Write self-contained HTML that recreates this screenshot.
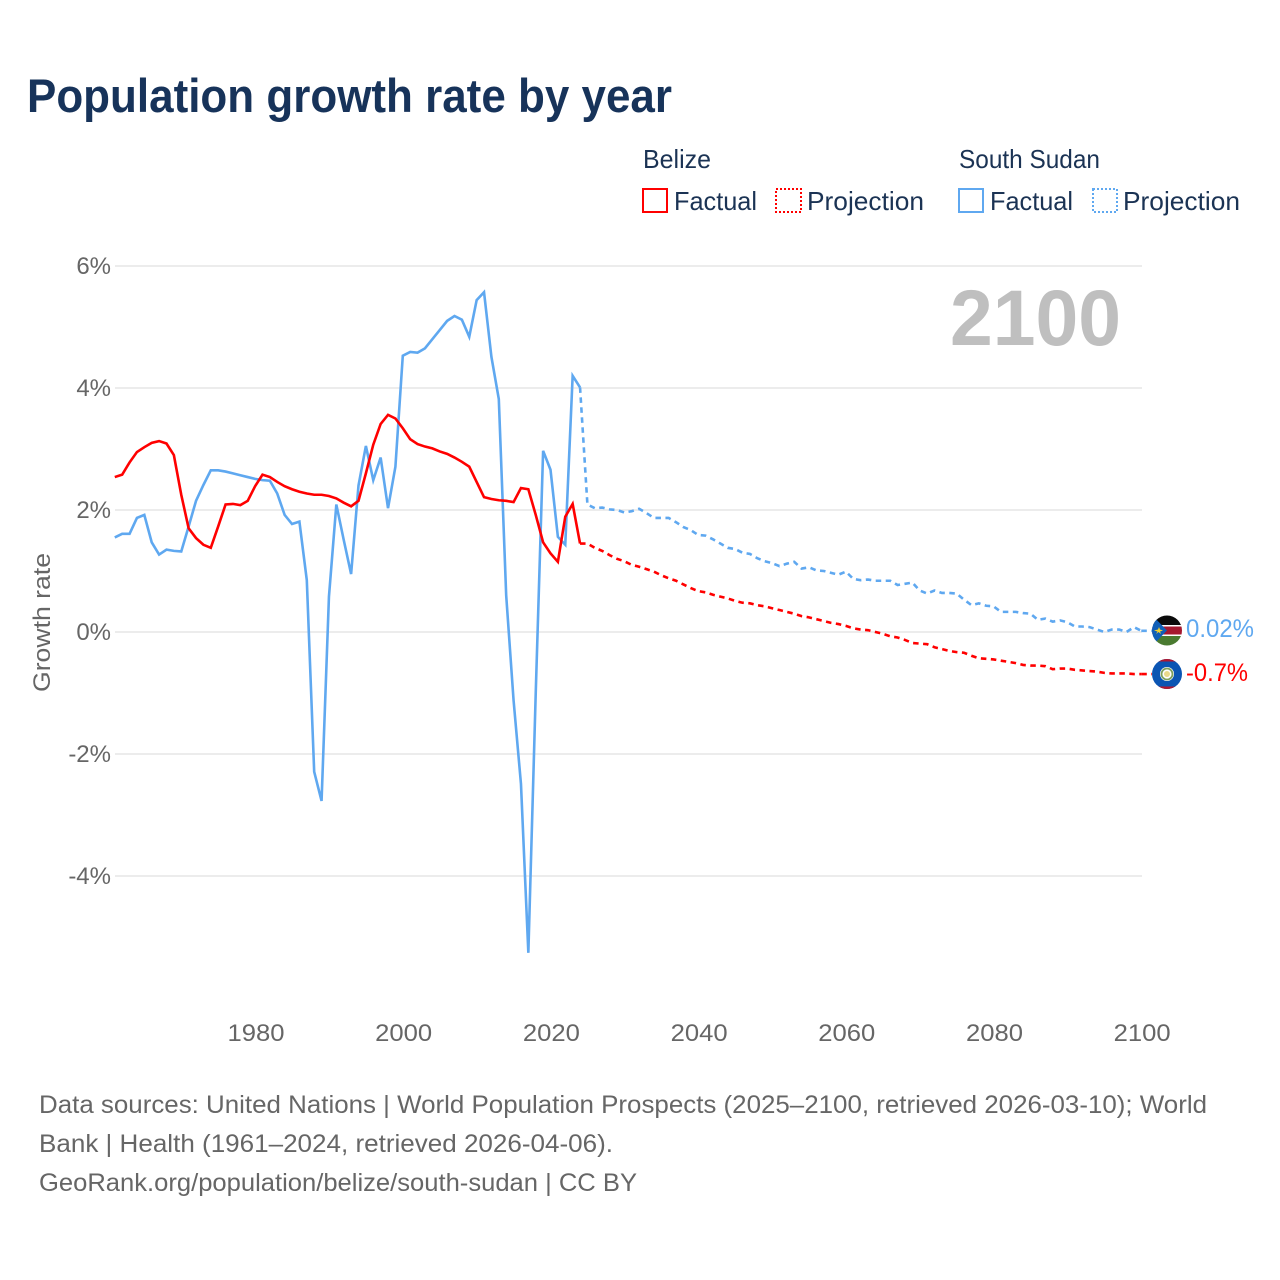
<!DOCTYPE html>
<html lang="en">
<head>
<meta charset="utf-8">
<title>Population growth rate by year</title>
<style>
html,body{margin:0;padding:0;background:#fff;}
svg{display:block;font-family:"Liberation Sans",sans-serif;}
</style>
</head>
<body>
<svg id="chart" xmlns="http://www.w3.org/2000/svg" width="1280" height="1280" viewBox="0 0 1280 1280">
<rect x="0" y="0" width="1280" height="1280" fill="#ffffff"/>
<text x="27" y="112" font-size="47" font-weight="700" fill="#17335a" textLength="645" lengthAdjust="spacingAndGlyphs">Population growth rate by year</text>

<g font-size="26" fill="#1b3354">
<text x="643" y="168" textLength="68" lengthAdjust="spacingAndGlyphs">Belize</text>
<text x="959" y="168" textLength="141" lengthAdjust="spacingAndGlyphs">South Sudan</text>
<rect x="643" y="189" width="24" height="23" fill="none" stroke="#ff0000" stroke-width="2"/>
<text x="674" y="210" textLength="83" lengthAdjust="spacingAndGlyphs">Factual</text>
<rect x="776" y="189" width="25" height="23" fill="none" stroke="#ff0000" stroke-width="2" stroke-dasharray="2 2"/>
<text x="807" y="210" textLength="117" lengthAdjust="spacingAndGlyphs">Projection</text>
<rect x="959" y="189" width="24" height="23" fill="none" stroke="#5fa8f0" stroke-width="2"/>
<text x="990" y="210" textLength="83" lengthAdjust="spacingAndGlyphs">Factual</text>
<rect x="1093" y="189" width="24" height="23" fill="none" stroke="#5fa8f0" stroke-width="2" stroke-dasharray="2 2"/>
<text x="1123" y="210" textLength="117" lengthAdjust="spacingAndGlyphs">Projection</text>
</g>

<g id="grid"></g>
<g id="yticks"></g>
<g id="xticks"></g>
<text transform="translate(50,692) rotate(-90)" font-size="24" fill="#666666" textLength="139" lengthAdjust="spacingAndGlyphs">Growth rate</text>
<text x="950" y="345" font-size="79" font-weight="700" fill="#bfbfbf" textLength="171" lengthAdjust="spacingAndGlyphs">2100</text>
<g id="series"></g>

<defs>
<clipPath id="clip-ss"><circle cx="1167" cy="630.5" r="15"/></clipPath>
<clipPath id="clip-bz"><circle cx="1167" cy="674" r="15"/></clipPath>
</defs>
<g clip-path="url(#clip-ss)">
<rect x="1152" y="615" width="30" height="10" fill="#0b0b0b"/>
<rect x="1152" y="625" width="30" height="1.5" fill="#ffffff"/>
<rect x="1152" y="626.5" width="30" height="8" fill="#a5182f"/>
<rect x="1152" y="634.5" width="30" height="1.5" fill="#ffffff"/>
<rect x="1152" y="636" width="30" height="10" fill="#4a7a30"/>
<polygon points="1152,615 1167,630.5 1152,646" fill="#0f5fb8"/>
<polygon points="1154,630.5 1158,629.5 1159,627 1160,629.5 1163,630.5 1160,631.5 1161,634 1158.500,632 1156,634 1157.500,631.500" fill="#f4d130"/>
</g>
<g clip-path="url(#clip-bz)">
<rect x="1152" y="659" width="30" height="30" fill="#0b55b3"/>
<rect x="1152" y="659" width="30" height="2.500" fill="#b01830"/>
<rect x="1152" y="686.500" width="30" height="2.500" fill="#b01830"/>
<circle cx="1167" cy="674" r="7" fill="#ffffff"/>
<circle cx="1167" cy="674" r="5.500" fill="none" stroke="#7da05c" stroke-width="1.800"/>
<circle cx="1167" cy="674" r="3" fill="#e9d98a"/>
</g>
<text x="1186" y="637" font-size="25" fill="#5fa8f0" textLength="68" lengthAdjust="spacingAndGlyphs">0.02%</text>
<text x="1186" y="681" font-size="25" fill="#ff0000" textLength="62" lengthAdjust="spacingAndGlyphs">-0.7%</text>

<g font-size="25" fill="#666666">
<text x="39" y="1113" textLength="1168" lengthAdjust="spacingAndGlyphs">Data sources: United Nations | World Population Prospects (2025–2100, retrieved 2026-03-10); World</text>
<text x="39" y="1152" textLength="574" lengthAdjust="spacingAndGlyphs">Bank | Health (1961–2024, retrieved 2026-04-06).</text>
<text x="39" y="1191" textLength="598" lengthAdjust="spacingAndGlyphs">GeoRank.org/population/belize/south-sudan | CC BY</text>
</g>
</svg>
<script>
var xTicks = [1980, 2000, 2020, 2040, 2060, 2080, 2100];
var yTicks = [6, 4, 2, 0, -2, -4];
var factualStartYear = 1961;
var projectionStartYear = 2024;
var belizeFactual = [
2.54,2.58,2.78,2.95,3.03,3.10,3.13,3.09,2.90,2.25,
1.70,1.54,1.43,1.38,1.73,2.09,2.10,2.08,2.15,2.39,
2.58,2.54,2.46,2.39,2.34,2.30,2.27,2.25,2.25,2.23,
2.19,2.12,2.06,2.15,2.60,3.07,3.41,3.56,3.50,3.34,
3.16,3.08,3.04,3.01,2.96,2.92,2.86,2.79,2.71,2.46,
2.21,2.18,2.16,2.15,2.13,2.36,2.34,1.92,1.47,1.29,
1.15,1.89,2.10,1.45];
var belizeProjection = [
1.45,1.45,1.38,1.33,1.26,1.20,1.16,1.10,1.07,1.03,0.99,
0.93,0.88,0.84,0.78,0.72,0.67,0.65,0.61,0.58,0.55,
0.51,0.48,0.47,0.44,0.42,0.39,0.36,0.33,0.30,0.26,
0.24,0.21,0.18,0.15,0.13,0.10,0.06,0.04,0.03,0.00,
-0.03,-0.07,-0.09,-0.13,-0.18,-0.19,-0.20,-0.25,-0.28,-0.31,
-0.33,-0.34,-0.39,-0.43,-0.44,-0.45,-0.47,-0.49,-0.51,-0.54,
-0.55,-0.55,-0.56,-0.61,-0.60,-0.60,-0.62,-0.63,-0.64,-0.65,
-0.67,-0.68,-0.68,-0.68,-0.69,-0.69];
var sudanFactual = [
1.55,1.61,1.61,1.87,1.92,1.47,1.27,1.35,1.33,1.32,
1.73,2.15,2.41,2.65,2.65,2.63,2.60,2.57,2.54,2.51,
2.49,2.48,2.27,1.92,1.77,1.81,0.85,-2.29,-2.77,0.58,
2.09,1.51,0.95,2.40,3.05,2.49,2.86,2.03,2.71,4.53,
4.59,4.58,4.65,4.80,4.95,5.10,5.18,5.12,4.84,5.44,
5.57,4.51,3.82,0.60,-1.12,-2.49,-5.26,-1.00,2.97,2.66,
1.56,1.43,4.20,4.01];
var sudanProjection = [
4.01,2.09,2.03,2.04,2.01,2.00,1.96,1.98,2.02,1.95,1.87,
1.87,1.87,1.80,1.72,1.67,1.59,1.58,1.52,1.45,1.38,
1.36,1.30,1.28,1.21,1.16,1.13,1.08,1.12,1.15,1.04,
1.06,1.01,1.00,0.97,0.94,0.99,0.87,0.85,0.86,0.84,
0.84,0.84,0.77,0.79,0.81,0.68,0.63,0.68,0.64,0.64,
0.63,0.53,0.44,0.47,0.43,0.42,0.33,0.33,0.33,0.31,
0.30,0.20,0.22,0.17,0.19,0.16,0.09,0.09,0.08,0.04,
0.00,0.04,0.04,0.00,0.08,0.02];

var SVGNS = 'http://www.w3.org/2000/svg';
function xTickScale(year) { return 256 + (year - 1980) * 7.385; }
function xScale(year) { return 255.1 + (year - 1980) * 7.385; }
function yScale(v) { return 632 - v * 61; }
function pathFor(values, startYear) {
  var d = '';
  for (var i = 0; i < values.length; i++) {
    d += (i ? 'L' : 'M') + xScale(startYear + i).toFixed(2) + ' ' + yScale(values[i]).toFixed(2);
  }
  return d;
}
var grid = document.getElementById('grid');
var yt = document.getElementById('yticks');
var xt = document.getElementById('xticks');
var seriesG = document.getElementById('series');

yTicks.forEach(function (v) {
  var line = document.createElementNS(SVGNS, 'line');
  
  
  line.setAttribute('x1', 115);
  line.setAttribute('x2', 1142);
  line.setAttribute('y1', yScale(v));
  line.setAttribute('y2', yScale(v));
  line.setAttribute('stroke', '#ececec');
  line.setAttribute('stroke-width', '2');
  grid.appendChild(line);
  var t = document.createElementNS(SVGNS, 'text');
  
  
  t.setAttribute('x', 111);
  t.setAttribute('y', yScale(v) + 8);
  t.setAttribute('text-anchor', 'end');
  t.setAttribute('font-size', '24');
  t.setAttribute('fill', '#666666');
  t.textContent = v + '%';
  yt.appendChild(t);
});
xTicks.forEach(function (year) {
  var t = document.createElementNS(SVGNS, 'text');
  
  
  t.setAttribute('x', xTickScale(year) - 28.5);
  t.setAttribute('y', 1041);
  t.setAttribute('font-size', '24');
  t.setAttribute('fill', '#666666');
  t.setAttribute('textLength', '57');
  t.setAttribute('lengthAdjust', 'spacingAndGlyphs');
  t.textContent = year;
  xt.appendChild(t);
});
function addLine(name, values, startYear, color, dashed) {
  var p = document.createElementNS(SVGNS, 'path');
  
  
  p.setAttribute('d', pathFor(values, startYear));
  p.setAttribute('fill', 'none');
  p.setAttribute('stroke', color);
  p.setAttribute('stroke-width', '2.6');
  p.setAttribute('stroke-linejoin', 'miter');
  if (dashed) { p.setAttribute('stroke-dasharray', '5.5 4.5'); }
  seriesG.appendChild(p);
}
function addConnector(name, value, color) {
  var c = document.createElementNS(SVGNS, 'line');
  
  
  c.setAttribute('x1', xScale(2100));
  c.setAttribute('x2', 1152);
  c.setAttribute('y1', yScale(value));
  c.setAttribute('y2', yScale(value));
  c.setAttribute('stroke', color);
  c.setAttribute('stroke-width', '2.6');
  c.setAttribute('stroke-dasharray', '5.5 4.5');
  seriesG.appendChild(c);
}
addLine('south-sudan-factual-line', sudanFactual, factualStartYear, '#5fa8f0', false);
addLine('south-sudan-projection-line', sudanProjection, projectionStartYear, '#5fa8f0', true);
addLine('belize-factual-line', belizeFactual, factualStartYear, '#ff0000', false);
addLine('belize-projection-line', belizeProjection, projectionStartYear, '#ff0000', true);
addConnector('south-sudan-end-connector', sudanProjection[sudanProjection.length - 1], '#5fa8f0');
addConnector('belize-end-connector', belizeProjection[belizeProjection.length - 1], '#ff0000');
</script>
</body>
</html>
